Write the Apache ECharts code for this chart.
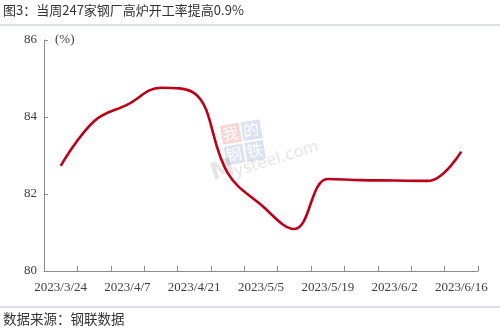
<!DOCTYPE html>
<html>
<head>
<meta charset="utf-8">
<script src="https://cdn.jsdelivr.net/npm/echarts@6/dist/echarts.min.js"></script>
<style>html,body{margin:0;padding:0;background:#fff;}#c{width:500px;height:333px;}</style>
</head>
<body>
<div id="c"></div>
<script>
var categories = ['2023/3/24','2023/3/31','2023/4/7','2023/4/14','2023/4/21','2023/4/28','2023/5/5','2023/5/12','2023/5/19','2023/5/26','2023/6/2','2023/6/9','2023/6/16'];
var rateValues = [82.73, 83.89, 84.32, 84.76, 84.62, 82.55, 81.72, 81.09, 82.39, 82.36, 82.35, 82.34, 83.10];
var yTicks = {min: 80, max: 86, interval: 2};
var titleText = '图3：当周247家钢厂高炉开工率提高0.9%';
var sourceText = '数据来源：钢联数据';
var unitText = '(%)';

var chart = echarts.init(document.getElementById('c'), null, {renderer: 'canvas'});
var cjk = '"Noto Sans CJK SC", sans-serif';
var serif = '"Liberation Serif", "DejaVu Serif", serif';
chart.setOption({
  animation: false,
  backgroundColor: '#fff',
  grid: {left: 44, right: 22, top: 40, bottom: 62, containLabel: false},
  xAxis: {
    type: 'category',
    data: categories,
    boundaryGap: true,
    axisLine: {lineStyle: {color: '#8c8c8c', width: 1}},
    axisTick: {show: true, inside: true, length: 5, interval: 0, lineStyle: {color: '#8c8c8c'}},
    axisLabel: {interval: 1, margin: 10, color: '#404040', fontSize: 13, fontFamily: serif},
    splitLine: {show: false}
  },
  yAxis: {
    type: 'value',
    min: yTicks.min, max: yTicks.max, interval: yTicks.interval,
    axisLine: {show: true, lineStyle: {color: '#8c8c8c', width: 1}},
    axisTick: {show: true, inside: true, length: 4, lineStyle: {color: '#8c8c8c'}},
    axisLabel: {margin: 7, color: '#404040', fontSize: 13, fontFamily: serif},
    splitLine: {show: false}
  },
  series: [{
    type: 'line',
    data: rateValues,
    smooth: 0.4,
    symbol: 'none',
    lineStyle: {color: '#BC0019', width: 2.6},
    z: 5
  }],
  graphic: [
    {type: 'text', left: 3, top: 4, style: {text: titleText, font: '13px ' + cjk, fill: '#333'}},
    {type: 'line', shape: {x1: 0, y1: 25, x2: 500, y2: 25}, style: {stroke: '#b4bccb', lineWidth: 1}},
    {type: 'line', shape: {x1: 0, y1: 307, x2: 500, y2: 307}, style: {stroke: '#b4bccb', lineWidth: 1}},
    {type: 'text', left: 3, top: 312, style: {text: sourceText, font: '13.5px ' + cjk, fill: '#333'}},
    {type: 'text', x: 55, y: 33, style: {text: unitText, font: '13px ' + serif, fill: '#404040'}},
    {type: 'group', x: 245, y: 142, rotation: 0.17, z: 1, children: [
      {type: 'rect', shape: {x: -22, y: -20, width: 19, height: 19}, style: {fill: 'rgba(230,120,120,0.3)'}},
      {type: 'rect', shape: {x: -1, y: -20, width: 19, height: 19}, style: {fill: 'rgba(130,150,200,0.28)'}},
      {type: 'rect', shape: {x: -22, y: 1, width: 19, height: 19}, style: {fill: 'rgba(130,150,200,0.28)'}},
      {type: 'rect', shape: {x: -1, y: 1, width: 19, height: 19}, style: {fill: 'rgba(130,150,200,0.28)'}},
      {type: 'text', x: -21, y: -19, style: {text: '我', font: '16px ' + cjk, fill: 'rgba(255,255,255,0.9)'}},
      {type: 'text', x: 0, y: -19, style: {text: '的', font: '16px ' + cjk, fill: 'rgba(255,255,255,0.9)'}},
      {type: 'text', x: -21, y: 2, style: {text: '钢', font: '16px ' + cjk, fill: 'rgba(255,255,255,0.9)'}},
      {type: 'text', x: 0, y: 2, style: {text: '铁', font: '16px ' + cjk, fill: 'rgba(255,255,255,0.9)'}}
    ]},
    {type: 'text', x: 215, y: 186, rotation: 0.3, z: 1, style: {text: 'M', font: 'bold 24px "DejaVu Sans", sans-serif', fill: 'rgba(150,150,150,0.25)', textVerticalAlign: 'bottom'}},
    {type: 'text', x: 237, y: 180, rotation: 0.3, z: 1, style: {text: 'ysteel.com', font: '16px "DejaVu Sans", sans-serif', fill: 'rgba(150,150,150,0.25)', textVerticalAlign: 'bottom'}}
  ]
});
</script>
</body>
</html>
